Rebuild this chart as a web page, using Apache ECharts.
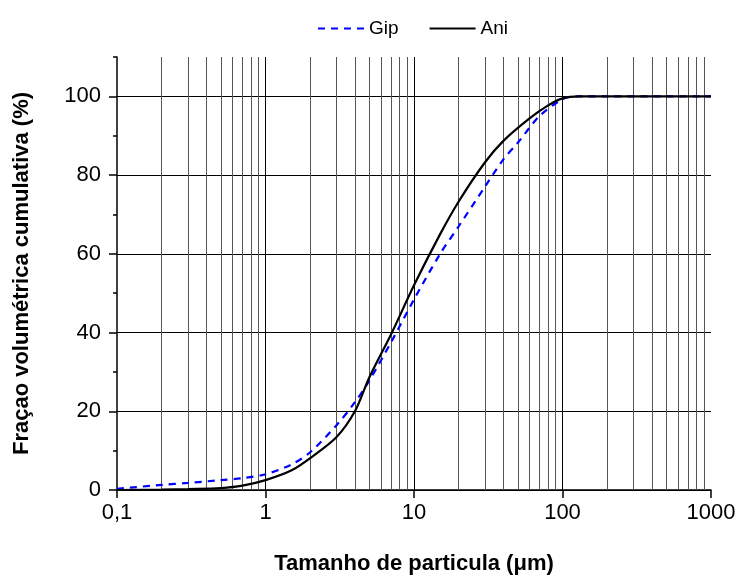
<!DOCTYPE html>
<html>
<head>
<meta charset="utf-8">
<script src="https://cdn.jsdelivr.net/npm/echarts@6/dist/echarts.min.js"></script>
<style>
  html, body { margin: 0; padding: 0; background: #fff; }
  #chart { width: 741px; height: 580px; }
</style>
</head>
<body>
<div id="chart"></div>
<script>
// tamanho de particula (um) e fracao cumulativa (%)
const gipX = [0.1, 0.2, 0.3, 0.5, 0.7, 1, 1.5, 2, 3, 4, 5, 7, 10, 15, 20, 30, 40, 50, 70, 100, 120, 200, 500, 1000];
const gipY = [0.3, 1.3, 1.8, 2.5, 3, 4, 6.5, 9.6, 16.4, 22.3, 27.8, 37.5, 48.4, 60, 67, 77, 84, 88.2, 95, 99.3, 100, 100, 100, 100];
const aniX = [0.1, 0.2, 0.3, 0.5, 0.7, 1, 1.5, 2, 3, 4, 5, 7, 10, 15, 20, 30, 40, 60, 80, 100, 130, 200, 500, 1000];
const aniY = [0, 0.1, 0.25, 0.5, 1.1, 2.5, 5, 8.1, 13.4, 20, 28.6, 39.5, 52, 65, 73.3, 83.2, 88.7, 94.4, 97.7, 99.5, 100, 100, 100, 100];

const xTickLabels = ['0,1', '1', '10', '100', '1000'];
const yMajorTicks = [0, 20, 40, 60, 80, 100];
const yMinorTicks = [10, 30, 50, 70, 90, 110];
const xMajorGrid = [1, 10, 100];
const xMinorGrid = [0.2, 0.3, 0.4, 0.5, 0.6, 0.7, 0.8, 0.9,
  2, 3, 4, 5, 6, 7, 8, 9,
  20, 30, 40, 50, 60, 70, 80, 90,
  200, 300, 400, 500, 600, 700, 800, 900];

const FONT = 'Liberation Sans, Arial, sans-serif';
const zip = (xs, ys) => xs.map((x, i) => [x, ys[i]]);

const myChart = echarts.init(document.getElementById('chart'));

const option = {
  backgroundColor: '#fff',
  animation: false,
  textStyle: { fontFamily: FONT },
  legend: {
    top: 14,
    left: 312,
    itemWidth: 46,
    itemHeight: 14,
    itemGap: 30,
    itemStyle: { opacity: 0 },
    textStyle: { fontFamily: FONT, fontSize: 19, color: '#000', padding: [0, 0, 0, 0] },
    data: ['Gip', 'Ani']
  },
  grid: {
    left: 117,
    right: 30,
    top: 57,
    bottom: 87,
    containLabel: false
  },
  xAxis: {
    type: 'log',
    logBase: 10,
    min: 0.1,
    max: 1000,
    name: 'Tamanho de particula (μm)',
    nameLocation: 'middle',
    nameGap: 63,
    nameTextStyle: { fontFamily: FONT, fontSize: 22, fontWeight: 'bold', color: '#000' },
    axisLine: { onZero: false, lineStyle: { color: '#000', width: 1.5 } },
    axisTick: { show: true, inside: false, length: 8, lineStyle: { color: '#000', width: 1.5 } },
    axisLabel: {
      margin: 12,
      fontSize: 22,
      color: '#000',
      fontFamily: FONT,
      formatter: (v) => xTickLabels[Math.round(Math.log10(v)) + 1]
    },
    splitLine: { show: false }
  },
  yAxis: [
    {
      type: 'value',
      min: 0,
      max: 110,
      position: 'left',
      name: 'Fraçao volumétrica cumulativa (%)',
      nameLocation: 'middle',
      nameGap: 84,
      nameTextStyle: { fontFamily: FONT, fontSize: 22, fontWeight: 'bold', color: '#000' },
      axisLine: { show: true, lineStyle: { color: '#000', width: 1.5 } },
      axisTick: { show: true, length: 8, customValues: yMajorTicks, lineStyle: { color: '#000', width: 1.5 } },
      axisLabel: { margin: 16, fontSize: 22, color: '#000', fontFamily: FONT, customValues: yMajorTicks },
      splitLine: { show: true, lineStyle: { color: '#000', width: 1 } }
    },
    {
      type: 'value',
      min: 0,
      max: 110,
      position: 'left',
      offset: 0,
      axisLine: { show: false },
      axisTick: { show: true, length: 4, customValues: yMinorTicks, lineStyle: { color: '#000', width: 1.5 } },
      axisLabel: { show: false },
      splitLine: { show: false }
    }
  ],
  series: [
    {
      name: 'Gip',
      type: 'line',
      smooth: 0.3,
      symbol: 'none',
      z: 3,
      lineStyle: { color: '#0000ff', width: 2.2, type: [7, 6] },
      itemStyle: { color: '#0000ff' },
      data: zip(gipX, gipY)
    },
    {
      name: 'Ani',
      type: 'line',
      smooth: 0.3,
      symbol: 'none',
      z: 4,
      lineStyle: { color: '#000', width: 2.2 },
      itemStyle: { color: '#000' },
      data: zip(aniX, aniY),
      markLine: {
        silent: true,
        symbol: 'none',
        label: { show: false },
        animation: false,
        z: 1,
        data: xMinorGrid.map((v) => ({ xAxis: v, lineStyle: { color: '#555', width: 1, type: 'solid' } }))
          .concat(xMajorGrid.map((v) => ({ xAxis: v, lineStyle: { color: '#000', width: 1, type: 'solid' } })))
      }
    }
  ]
};

myChart.setOption(option);
</script>
</body>
</html>
